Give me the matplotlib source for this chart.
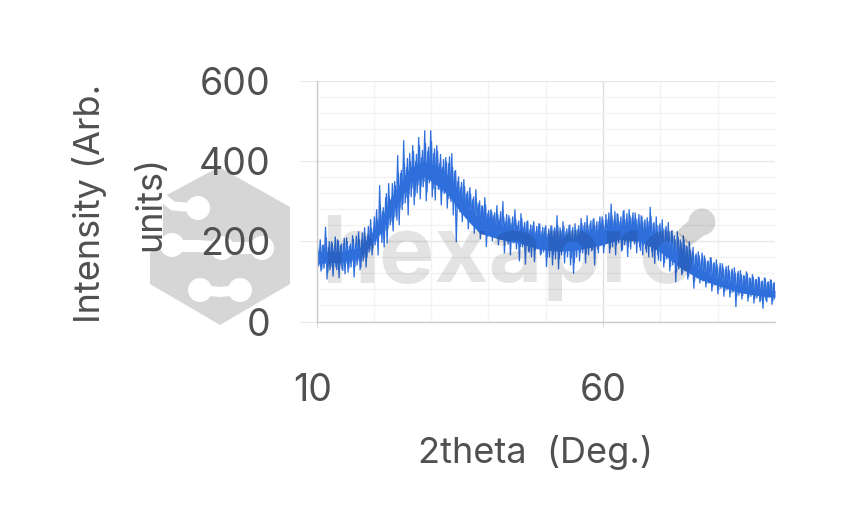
#!/usr/bin/python3

import numpy as np
import matplotlib
matplotlib.use("Agg")
import matplotlib.pyplot as plt
from matplotlib.patches import Polygon, Circle
from matplotlib.lines import Line2D
from matplotlib.transforms import ScaledTranslation, IdentityTransform

plt.rcParams['font.family'] = ['Inter', 'DejaVu Sans']

# top and bottom of the noisy spikes, evenly spaced in theta
upper = [
    215, 180, 190, 236, 185, 200, 178, 205, 190, 195,
    210, 188, 215, 195, 225, 205, 235, 215, 255,
    235, 280, 340, 275, 310, 345, 300, 350, 415, 370,
    452, 385, 420, 440, 400, 460, 410, 477, 425, 477,
    420, 440, 395, 385, 410, 395, 420, 375, 350, 335,
    355, 320, 335, 305, 330, 295, 290, 310, 270, 280,
    265, 290, 255, 300, 250, 265, 245, 280, 240, 270,
    235, 250, 230, 240, 225, 245, 225, 235, 220, 240,
    230, 265, 235, 250, 225, 240, 228, 245, 232, 258,
    240, 265, 245, 255, 240, 250, 262, 240, 255, 294,
    255, 270, 250, 275, 255, 280, 260, 272, 255, 265,
    250, 260, 286, 245, 262, 240, 255, 232, 248, 225,
    215, 225, 205, 215, 190, 200, 175, 165, 175, 155,
    165, 150, 160, 145, 155, 135, 145, 130, 140, 125,
    135, 120, 128, 115, 125, 110, 118, 105, 112, 100, 110, 98, 105, 95,
]
lower = [
    150, 125, 132, 105, 128, 112, 135, 108, 130, 118,
    122, 135, 110, 140, 128, 150, 135, 172, 165,
    190, 165, 215, 185, 195, 240, 225, 262, 240, 278,
    295, 265, 310, 290, 320, 305, 335, 300, 345, 310,
    302, 330, 290, 318, 282, 305, 265, 198, 285, 248,
    270, 230, 260, 219, 245, 205, 235, 186, 222, 200,
    215, 190, 205, 170, 200, 165, 195, 180, 150, 185,
    142, 175, 160, 148, 180, 165, 172, 136, 160, 140,
    155, 130, 165, 145, 160, 140, 119, 160, 150, 170,
    145, 165, 175, 140, 180, 190, 170, 195, 170, 185,
    165, 195, 175, 190, 161, 180, 200, 170, 185, 165,
    180, 160, 175, 144, 165, 150, 135, 155, 125, 140,
    98, 130, 115, 125, 105, 118, 82, 108, 95, 100,
    85, 95, 75, 90, 68, 82, 62, 78, 60, 72,
    36, 65, 55, 70, 50, 62, 45, 58, 48, 32, 52, 60, 42, 55,
]

# the shorter spikes in between
upper2 = [
    198, 205, 192, 210, 200, 196, 212, 202, 194, 208,
    200, 195, 206, 214, 205, 222, 212, 238, 232,
    262, 255, 290, 285, 320, 312, 345, 340, 372, 378,
    395, 408, 400, 425, 418, 440, 428, 445, 436, 450,
    432, 425, 418, 405, 398, 412, 385, 378, 362, 348,
    338, 325, 318, 312, 298, 302, 288, 292, 278, 275,
    272, 268, 275, 262, 268, 258, 262, 255, 252, 258,
    248, 252, 242, 250, 238, 244, 236, 240, 232, 238,
    235, 240, 228, 238, 232, 242, 236, 230, 240, 246,
    248, 240, 252, 258, 250, 262, 255, 268, 272, 265,
    275, 268, 262, 278, 270, 265, 272, 258, 268, 262,
    255, 250, 262, 248, 240, 245, 232, 238, 225, 228,
    205, 212, 198, 204, 188, 180, 186, 170, 165, 172,
    158, 152, 160, 148, 142, 146, 135, 138, 128, 132,
    122, 126, 118, 115, 120, 108, 112, 106, 110, 102, 108, 100, 104, 98,
]
lower2 = [
    138, 130, 145, 122, 136, 148, 128, 140, 126, 144,
    132, 148, 136, 150, 134, 158, 160, 178, 182,
    198, 212, 196, 226, 232, 248, 258, 252, 282, 292,
    308, 316, 332, 312, 340, 336, 348, 322, 352, 330,
    345, 328, 322, 338, 305, 298, 312, 285, 272, 268,
    258, 272, 246, 238, 256, 225, 240, 212, 228, 232,
    210, 226, 204, 218, 192, 210, 198, 216, 186, 208,
    190, 172, 198, 178, 192, 168, 184, 160, 186, 166,
    176, 156, 182, 170, 184, 158, 146, 178, 172, 188,
    168, 186, 178, 194, 170, 200, 186, 204, 182, 198,
    190, 206, 178, 200, 186, 210, 192, 198, 176, 190,
    172, 188, 160, 178, 152, 170, 146, 162, 136, 150,
    122, 142, 120, 134, 112, 126, 100, 118, 104, 110,
    94, 104, 86, 98, 78, 92, 74, 86, 70, 80,
    62, 76, 64, 72, 60, 70, 56, 66, 52, 60, 48, 64, 50, 58,
]

# solid middle of the band
core_theta = [10, 14.2, 17.6, 19.3, 21.1, 22.8, 24.6, 26.3, 28.8, 31.5, 33.3, 35, 36.8, 38.5, 42,
              45.5, 49, 52.5, 56, 59.5, 63, 66.4, 69.9, 73.4, 76.9, 80.4, 83.9, 87.4, 90]
core_hi = [175, 175, 185, 215, 250, 305, 345, 385, 400, 385, 360, 320, 280, 255, 240,
           225, 215, 205, 210, 225, 240, 235, 200, 165, 130, 105, 90, 80, 78]
core_lo = [145, 148, 160, 190, 220, 262, 305, 345, 362, 335, 310, 275, 245, 220, 205,
           195, 180, 175, 180, 190, 205, 200, 175, 135, 105, 88, 72, 64, 60]

intensity = np.array([v for pair in zip(upper, lower) for v in pair], dtype=float)
intensity2 = np.array([v for pair in zip(upper2, lower2) for v in pair], dtype=float)
theta = np.linspace(10, 90, len(intensity))
theta2 = theta + (theta[1]-theta[0])/2

xticks = [10, 60]
xminor = [20, 30, 40, 50, 70, 80, 90]
yticks = [0, 200, 400, 600]
yminor = [40, 80, 120, 160, 240, 280, 320, 360, 440, 480, 520, 560]

W, H = 860, 530
TXT = "#505050"
LINE = "#2f6fdc"
fig = plt.figure(figsize=(W/100, H/100), dpi=100)
ax = fig.add_axes([316.5/W, 1-321.5/H, (775-316.5)/W, 240.5/H])

def px(x, y):
    return (x/W, 1-y/H)

# logo sits behind the labels
grey = "#d6d6d6"
fig.add_artist(Polygon([px(219, 167), px(290, 207), px(290, 284), px(220, 325), px(150, 284), px(150, 253),
                        px(163, 240), px(163, 197)], closed=True, color=grey, lw=0,
                       transform=fig.transFigure, zorder=-5))
def hole(pts, w):
    xs, ys = zip(*[px(*p) for p in pts])
    fig.add_artist(Line2D(xs, ys, color="white", lw=w*0.72, solid_capstyle="round", transform=fig.transFigure, zorder=-4))
def blob(x, y, r=12):
    fig.add_artist(Circle((x, H-y), r, color="white", lw=0, transform=IdentityTransform(), zorder=-4))
hole([(200, 290), (220, 292), (240, 290)], 10)
blob(200, 290)
blob(240, 290)
hole([(158, 194), (173, 206), (198, 208)], 9)
blob(198, 208)
hole([(150, 240), (172, 246), (197, 246), (225, 248), (262, 248)], 12)
blob(172, 245)
blob(222, 248)
blob(262, 248)

ax.fill_between(core_theta, core_lo, core_hi, color=LINE, lw=0)
ax.plot(theta, intensity, color=LINE, linewidth=0.9, solid_joinstyle="miter")
ax.plot(theta2, intensity2, color=LINE, linewidth=0.9, solid_joinstyle="miter")

ax.set_xlim(10, 90)
ax.set_ylim(0, 600)
ax.set_xticks(xticks)
ax.set_yticks(yticks)
ax.set_xticks(xminor, minor=True)
ax.set_yticks(yminor, minor=True)
ax.grid(True, which="major", axis="x", color="#e0e0e0", linewidth=1)
ax.grid(True, which="major", axis="y", color="#e8e8e8", linewidth=1)
ax.grid(True, which="minor", color="#f3f3f3", linewidth=1)
ax.set_axisbelow(True)
ax.patch.set_alpha(0)
for s in ["top", "right"]:
    ax.spines[s].set_visible(False)
for s in ["left", "bottom"]:
    ax.spines[s].set_color("#cccccc")
    ax.spines[s].set_linewidth(1)
ax.tick_params(axis="y", which="major", length=12, color="#e8e8e8", labelsize=27, labelcolor=TXT, pad=21)
ax.tick_params(axis="x", which="major", length=4, color="#e0e0e0", labelsize=27, labelcolor=TXT, pad=33)
ax.tick_params(which="minor", length=0)
lab10 = ax.get_xticklabels()[0]
lab10.set_transform(lab10.get_transform() + ScaledTranslation(-4/100, 0, fig.dpi_scale_trans))

fig.text(535/W, 1-453/H, "2theta  (Deg.)", fontsize=26, color=TXT, ha="center", va="center")
fig.text(120/W, 1-203/H, "Intensity (Arb.\nunits)", fontsize=26, color=TXT, ha="center", va="center",
         rotation=90, linespacing=2.05, multialignment="center")

# wordmark goes over the trace
fig.text(321/W, 1-282/H, "hexapro", fontsize=67, fontweight="bold",
         color="black", alpha=0.11, ha="left", va="baseline", zorder=10)
ang = np.radians(np.arange(185, 450, 15))
tail = [px(702+13.5*np.cos(a), 222+13.5*np.sin(a)) for a in ang]
tail = tail + [px(690, 246), px(676, 232)]
fig.add_artist(Polygon(tail, closed=True, color="black", alpha=0.16, lw=0, transform=fig.transFigure, zorder=10))

fig.savefig("out.png", dpi=100)
